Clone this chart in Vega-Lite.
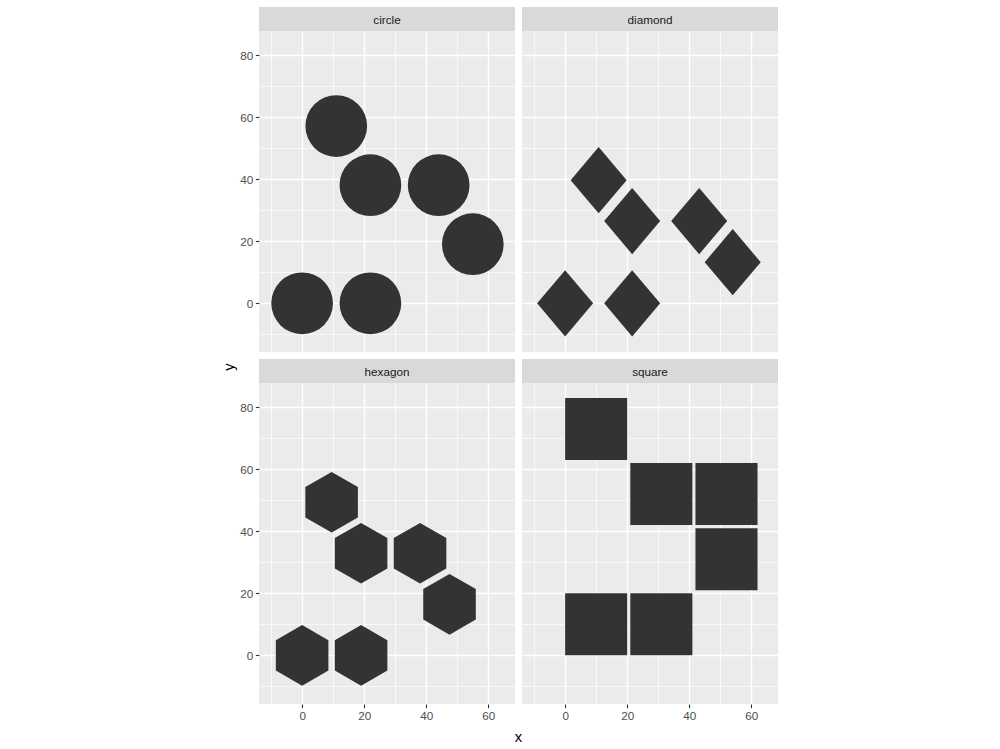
{
  "$schema": "https://vega.github.io/schema/vega-lite/v6.json",
  "padding": {"left": 222, "top": 7, "right": 0, "bottom": 0},
  "datasets": {
    "circle": [
      {"x": 0, "y": 0}, {"x": 22, "y": 0}, {"x": 22, "y": 38.1},
      {"x": 44, "y": 38.1}, {"x": 55, "y": 19.05}, {"x": 11, "y": 57.15}
    ],
    "diamond": [
      {"x": 0, "y": 0}, {"x": 21.6, "y": 0}, {"x": 21.6, "y": 26.5},
      {"x": 43.2, "y": 26.5}, {"x": 54, "y": 13.25}, {"x": 10.8, "y": 39.7}
    ],
    "hexagon": [
      {"x": 0, "y": 0}, {"x": 19, "y": 0}, {"x": 19, "y": 32.9},
      {"x": 38, "y": 32.9}, {"x": 47.5, "y": 16.45}, {"x": 9.5, "y": 49.35}
    ],
    "square": [
      {"xmin": 0, "xmax": 20, "ymin": 0, "ymax": 20},
      {"xmin": 21, "xmax": 41, "ymin": 0, "ymax": 20},
      {"xmin": 42, "xmax": 62, "ymin": 21, "ymax": 41},
      {"xmin": 42, "xmax": 62, "ymin": 42, "ymax": 62},
      {"xmin": 21, "xmax": 41, "ymin": 42, "ymax": 62},
      {"xmin": 0, "xmax": 20, "ymin": 63, "ymax": 83}
    ]
  },
  "config": {
    "font": "Liberation Sans",
    "view": {"stroke": null},
    "axis": {
      "domain": false,
      "title": null,
      "labelFont": "Liberation Sans",
      "labelFontSize": 11.7,
      "labelColor": "#4d4d4d",
      "tickColor": "#333333",
      "tickSize": 3.7,
      "tickWidth": 1.1,
      "labelPadding": 2.6,
      "gridColor": "#ffffff",
      "labelFlush": false,
      "labelOverlap": false
    }
  },
  "spacing": 2,
  "hconcat": [
    {
      "width": 12,
      "height": 720,
      "data": {"values": [{"t": "y"}]},
      "mark": {"type": "text", "angle": 270, "fontSize": 14.7, "color": "#000000", "font": "Liberation Sans"},
      "encoding": {"text": {"field": "t", "type": "nominal"}}
    },
    {
      "spacing": 7,
      "vconcat": [
        {
          "spacing": 7,
          "hconcat": [
            {
              "spacing": 0,
              "vconcat": [
                {
                  "width": 256, "height": 24,
                  "view": {"fill": "#d9d9d9", "stroke": null},
                  "data": {"values": [{"panel": "circle"}]},
                  "mark": {"type": "text", "fontSize": 11.7, "color": "#1a1a1a", "font": "Liberation Sans", "dy": 1},
                  "encoding": {"text": {"field": "panel", "type": "nominal"}}
                },
                {
                  "width": 256, "height": 321,
                  "view": {"fill": "#ebebeb", "stroke": null},
                  "data": {"name": "circle"},
                  "mark": {"type": "point", "shape": "circle", "filled": true, "size": 3807, "color": "#333333", "opacity": 1},
                  "encoding": {
                    "x": {"field": "x", "type": "quantitative",
                      "scale": {"domain": [-13.9, 68.6], "nice": false, "zero": false},
                      "axis": {"values": [-10, 0, 10, 20, 30, 40, 50, 60], "labels": false, "ticks": false,
                        "gridWidth": {"condition": {"test": "datum.value % 20 === 0", "value": 1.4}, "value": 0.7}}},
                    "y": {"field": "y", "type": "quantitative",
                      "scale": {"domain": [-15.7, 87.8], "nice": false, "zero": false},
                      "axis": {"values": [-10, 0, 10, 20, 30, 40, 50, 60, 70, 80],
                        "labelExpr": "datum.value % 20 === 0 ? datum.label : ''",
                        "tickOpacity": {"condition": {"test": "datum.value % 20 === 0", "value": 1}, "value": 0},
                        "gridWidth": {"condition": {"test": "datum.value % 20 === 0", "value": 1.4}, "value": 0.7}}}
                  }
                }
              ]
            },
            {
              "spacing": 0,
              "vconcat": [
                {
                  "width": 256, "height": 24,
                  "view": {"fill": "#d9d9d9", "stroke": null},
                  "data": {"values": [{"panel": "diamond"}]},
                  "mark": {"type": "text", "fontSize": 11.7, "color": "#1a1a1a", "font": "Liberation Sans", "dy": 1},
                  "encoding": {"text": {"field": "panel", "type": "nominal"}}
                },
                {
                  "width": 256, "height": 321,
                  "view": {"fill": "#ebebeb", "stroke": null},
                  "data": {"name": "diamond"},
                  "mark": {"type": "point", "shape": "M0,-1L0.845,0L0,1L-0.845,0Z", "filled": true, "size": 4396, "color": "#333333", "opacity": 1},
                  "encoding": {
                    "x": {"field": "x", "type": "quantitative",
                      "scale": {"domain": [-13.9, 68.6], "nice": false, "zero": false},
                      "axis": {"values": [-10, 0, 10, 20, 30, 40, 50, 60], "labels": false, "ticks": false,
                        "gridWidth": {"condition": {"test": "datum.value % 20 === 0", "value": 1.4}, "value": 0.7}}},
                    "y": {"field": "y", "type": "quantitative",
                      "scale": {"domain": [-15.7, 87.8], "nice": false, "zero": false},
                      "axis": {"values": [-10, 0, 10, 20, 30, 40, 50, 60, 70, 80], "labels": false, "ticks": false,
                        "gridWidth": {"condition": {"test": "datum.value % 20 === 0", "value": 1.4}, "value": 0.7}}}
                  }
                }
              ]
            }
          ]
        },
        {
          "spacing": 7,
          "hconcat": [
            {
              "spacing": 0,
              "vconcat": [
                {
                  "width": 256, "height": 24,
                  "view": {"fill": "#d9d9d9", "stroke": null},
                  "data": {"values": [{"panel": "hexagon"}]},
                  "mark": {"type": "text", "fontSize": 11.7, "color": "#1a1a1a", "font": "Liberation Sans", "dy": 1},
                  "encoding": {"text": {"field": "panel", "type": "nominal"}}
                },
                {
                  "width": 256, "height": 321,
                  "view": {"fill": "#ebebeb", "stroke": null},
                  "data": {"name": "hexagon"},
                  "mark": {"type": "point", "shape": "M0,-1L0.866,-0.5L0.866,0.5L0,1L-0.866,0.5L-0.866,-0.5Z", "filled": true, "size": 3684, "color": "#333333", "opacity": 1},
                  "encoding": {
                    "x": {"field": "x", "type": "quantitative",
                      "scale": {"domain": [-13.9, 68.6], "nice": false, "zero": false},
                      "axis": {"values": [-10, 0, 10, 20, 30, 40, 50, 60],
                        "labelExpr": "datum.value % 20 === 0 ? datum.label : ''",
                        "tickOpacity": {"condition": {"test": "datum.value % 20 === 0", "value": 1}, "value": 0},
                        "gridWidth": {"condition": {"test": "datum.value % 20 === 0", "value": 1.4}, "value": 0.7}}},
                    "y": {"field": "y", "type": "quantitative",
                      "scale": {"domain": [-15.7, 87.8], "nice": false, "zero": false},
                      "axis": {"values": [-10, 0, 10, 20, 30, 40, 50, 60, 70, 80],
                        "labelExpr": "datum.value % 20 === 0 ? datum.label : ''",
                        "tickOpacity": {"condition": {"test": "datum.value % 20 === 0", "value": 1}, "value": 0},
                        "gridWidth": {"condition": {"test": "datum.value % 20 === 0", "value": 1.4}, "value": 0.7}}}
                  }
                }
              ]
            },
            {
              "spacing": 0,
              "vconcat": [
                {
                  "width": 256, "height": 24,
                  "view": {"fill": "#d9d9d9", "stroke": null},
                  "data": {"values": [{"panel": "square"}]},
                  "mark": {"type": "text", "fontSize": 11.7, "color": "#1a1a1a", "font": "Liberation Sans", "dy": 1},
                  "encoding": {"text": {"field": "panel", "type": "nominal"}}
                },
                {
                  "width": 256, "height": 321,
                  "view": {"fill": "#ebebeb", "stroke": null},
                  "data": {"name": "square"},
                  "mark": {"type": "rect", "color": "#333333", "opacity": 1},
                  "encoding": {
                    "x": {"field": "xmin", "type": "quantitative",
                      "scale": {"domain": [-13.9, 68.6], "nice": false, "zero": false},
                      "axis": {"values": [-10, 0, 10, 20, 30, 40, 50, 60],
                        "labelExpr": "datum.value % 20 === 0 ? datum.label : ''",
                        "tickOpacity": {"condition": {"test": "datum.value % 20 === 0", "value": 1}, "value": 0},
                        "gridWidth": {"condition": {"test": "datum.value % 20 === 0", "value": 1.4}, "value": 0.7}}},
                    "x2": {"field": "xmax"},
                    "y": {"field": "ymin", "type": "quantitative",
                      "scale": {"domain": [-15.7, 87.8], "nice": false, "zero": false},
                      "axis": {"values": [-10, 0, 10, 20, 30, 40, 50, 60, 70, 80], "labels": false, "ticks": false,
                        "gridWidth": {"condition": {"test": "datum.value % 20 === 0", "value": 1.4}, "value": 0.7}}},
                    "y2": {"field": "ymax"}
                  }
                }
              ]
            }
          ]
        },
        {
          "width": 519,
          "height": 3,
          "data": {"values": [{"t": "x"}]},
          "mark": {"type": "text", "fontSize": 14.7, "color": "#000000", "font": "Liberation Sans", "dy": -2},
          "encoding": {"text": {"field": "t", "type": "nominal"}}
        }
      ]
    }
  ]
}
